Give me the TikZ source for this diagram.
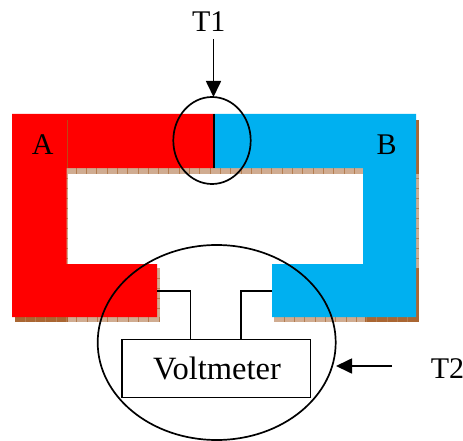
\documentclass[tikz,border=0pt]{standalone}
\usepackage{fontspec}
\setmainfont{Liberation Serif}
\usetikzlibrary{arrows.meta}
\definecolor{barred}{RGB}{255,0,0}
\definecolor{barblue}{RGB}{0,176,240}
\definecolor{shadelight}{RGB}{208,172,145}
\definecolor{shadedark}{RGB}{170,102,50}
\definecolor{shadetick}{RGB}{180,125,80}
\tikzset{
  lbl/.style={inner sep=0pt,anchor=base,font=\fontsize{30}{30}\selectfont},
  ring/.style={draw=black,line width=1.7pt},
  wire/.style={draw=black,line width=1.6pt},
  pointer/.style={draw=black,line width=1.7pt,-{Triangle[length=16pt,width=15pt]}},
  tick/.style={draw=shadetick,line width=0.5pt}
}
\begin{document}
\begin{tikzpicture}[x=1pt,y=-1pt]
\useasboundingbox (0,0) rectangle (463,441);
% shadows
\fill[shadelight] (66,168) rectangle (363,174);
\fill[shadelight] (66,168) rectangle (68,268);
\fill[shadelight] (15,317) rectangle (160,322);
\fill[shadelight] (157,268) rectangle (160,322);
\fill[shadelight] (274,317) rectangle (419,322);
\fill[shadelight] (416,120) rectangle (419,322);
\fill[shadedark] (15,317) rectangle (68,322);
\fill[shadedark] (365,317) rectangle (419,322);
\fill[shadedark] (416,120) rectangle (419,174);
\fill[shadedark] (416,268) rectangle (419,322);
\foreach \px in {76,86.3,...,363}{\draw[tick] (\px,168) -- (\px,174);}
\foreach \px in {25,35.3,...,160}{\draw[tick] (\px,317) -- (\px,322);}
\foreach \px in {284,294.3,...,416}{\draw[tick] (\px,317) -- (\px,322);}
\foreach \py in {178,188,...,264}{\draw[tick] (66,\py) -- (68,\py);\draw[tick] (416,\py) -- (419,\py);}
\foreach \py in {278,288,...,317}{\draw[tick] (157,\py) -- (160,\py);}
% bars
\fill[barred] (12,114) -- (214.5,114) -- (214.5,168) -- (66.5,168) -- (66.5,264) -- (157,264) -- (157,317) -- (12,317) -- cycle;
\fill[barblue] (214.5,114) -- (416,114) -- (416,317) -- (272,317) -- (272,264) -- (363,264) -- (363,168) -- (214.5,168) -- cycle;
\draw[color={rgb,255:red,190;green,70;blue,20},line width=0.8pt] (67,120) -- (67,168);
% junction
\coordinate (jtop) at (214,114);
\coordinate (jbot) at (214,168);
\draw[black,line width=1.6pt] (jtop) -- (jbot);
% meter
\node[draw=black,line width=1.6pt,fill=white,minimum width=188.5pt,minimum height=58pt,inner sep=0pt] (meter) at (216.4,368.3) {};
\node[lbl,font=\fontsize{32.5}{32.5}\selectfont] (vtext) at (217,379) {Voltmeter};
\coordinate (redend) at (157,291);
\coordinate (blueend) at (272,291);
\coordinate (redin) at (190.5,339.3);
\coordinate (bluein) at (241,339.3);
\draw[wire] (redend) -| (redin);
\draw[wire] (blueend) -| (bluein);
% rings
\draw[ring] (212,140.5) ellipse [x radius=38.7,y radius=43.5];
\draw[ring] (216.7,342.5) ellipse [x radius=119,y radius=97.5];
% labels
\node[lbl] (t1) at (208.7,31.7) {T1};
\node[lbl] (t2) at (447.5,378) {T2};
\node[lbl] (a) at (42.7,154) {A};
\node[lbl] (b) at (386.7,154) {B};
% pointers
\coordinate (t1from) at (213.5,39);
\coordinate (t1to) at (213.5,97);
\coordinate (t2from) at (392,366);
\coordinate (t2to) at (336,366);
\draw[pointer] (t1from) -- (t1to);
\draw[pointer] (t2from) -- (t2to);
\end{tikzpicture}
\end{document}
